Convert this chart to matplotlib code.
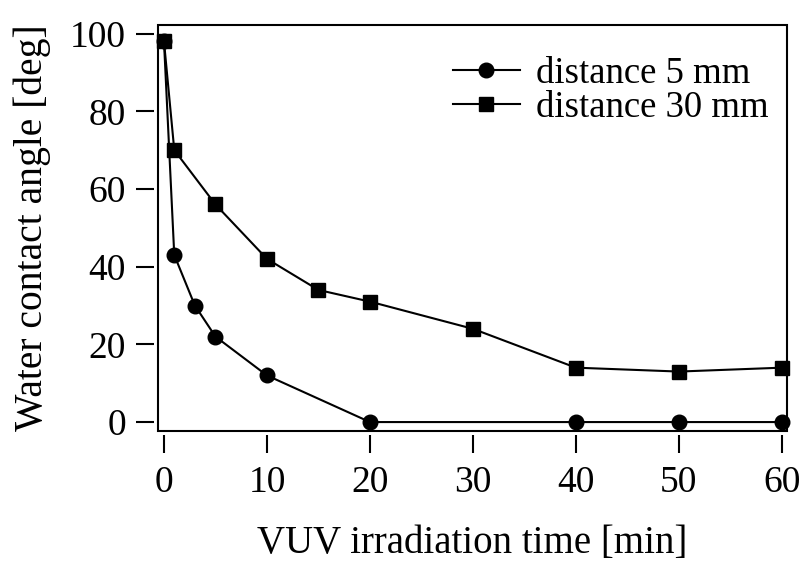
import matplotlib
matplotlib.use("Agg")
import matplotlib.pyplot as plt
from matplotlib.patches import Rectangle

# data
time_5mm = [0, 1, 3, 5, 10, 20, 40, 50, 60]
angle_5mm = [98, 43, 30, 22, 12, 0, 0, 0, 0]
time_30mm = [0, 1, 5, 10, 15, 20, 30, 40, 50, 60]
angle_30mm = [98, 70, 56, 42, 34, 31, 24, 14, 13, 14]
x_ticks = [0, 10, 20, 30, 40, 50, 60]
y_ticks = [0, 20, 40, 60, 80, 100]

plt.rcParams.update({
    "font.family": ["Liberation Serif", "DejaVu Serif"],
    "font.size": 27,
})

fig = plt.figure(figsize=(8.07, 5.65), dpi=100)
ax = fig.add_axes([158 / 807, 1 - 431 / 565, (787 - 158) / 807, (431 - 25) / 565])

ax.plot(time_5mm, angle_5mm, "-o", color="black", lw=1.5, ms=10.5,
        label="distance 5 mm", clip_on=False, zorder=3)
ax.plot(time_30mm, angle_30mm, "-s", color="black", lw=1.5, ms=9.5,
        label="distance 30 mm", clip_on=False, zorder=3)

ax.set_xlim(-0.58, 60.5)
ax.set_ylim(-2.3, 102.2)
ax.set_xticks(x_ticks)
ax.set_yticks(y_ticks)

# R-style axes: ticks detached slightly from the box
for side in ["left", "bottom"]:
    ax.spines[side].set_position(("outward", 3))
    ax.spines[side].set_visible(False)
for side in ["top", "right"]:
    ax.spines[side].set_visible(False)
ax.add_patch(Rectangle((0, 0), 1, 1, transform=ax.transAxes, fill=False,
                       lw=1.5, color="black", clip_on=False, zorder=4))
ax.tick_params(axis="both", direction="out", length=13, width=1.5)
ax.tick_params(axis="x", pad=9)
ax.tick_params(axis="y", pad=7)

ax.set_xlabel("VUV irradiation time [min]", fontsize=28, labelpad=18)
ax.set_ylabel("Water contact angle [deg]", fontsize=28.5, labelpad=14)

ax.legend(loc="upper right", frameon=False, handlelength=1.8, handletextpad=0.45,
          labelspacing=-0.02, borderaxespad=0.3, fontsize=26.5,
          bbox_to_anchor=(1.012, 0.985))

fig.savefig("out.png", dpi=100)
